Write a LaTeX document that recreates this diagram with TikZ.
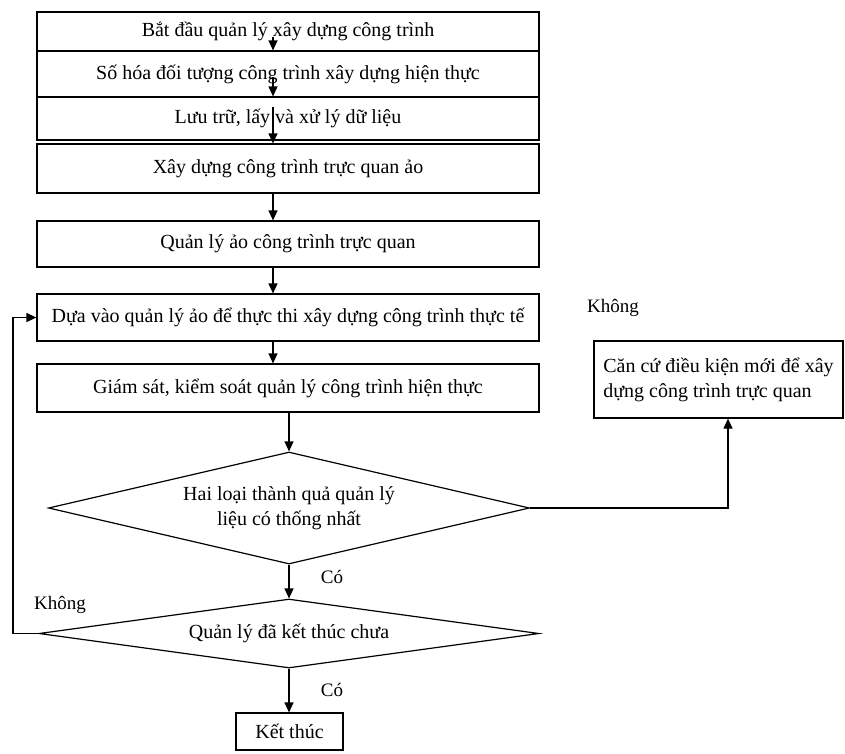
\documentclass[tikz,border=0pt]{standalone}
\usepackage{fontspec}
\setmainfont{Liberation Serif}
\usetikzlibrary{shapes.geometric,arrows.meta,calc}
\begin{document}
\begin{tikzpicture}[x=1pt,y=-1pt,line width=1.2pt,
  txt/.style={font=\fontsize{20}{25}\selectfont},
  box/.style={draw,rectangle,inner sep=0pt,minimum width=502pt,txt},
  dia/.style={draw,diamond,inner sep=0pt,txt,align=center},
  lbl/.style={inner sep=0pt,font=\fontsize{19}{23}\selectfont},
  arr/.style={-{Triangle[length=10pt,width=9pt]}}
]
\useasboundingbox (0,0) rectangle (845,753);
\coordinate (ax) at (273,0);
\coordinate (bx) at (289,0);
\node[box,minimum height=39pt] (b1) at (288,31.5) {Bắt đầu quản lý xây dựng công trình};
\node[box,minimum height=46pt] (b2) at (288,74) {Số hóa đối tượng công trình xây dựng hiện thực};
\node[box,minimum height=43pt] (b3) at (288,118.5) {Lưu trữ, lấy và xử lý dữ liệu};
\node[box,minimum height=49pt] (b4) at (288,168.5) {Xây dựng công trình trực quan ảo};
\node[box,minimum height=46pt] (b5) at (288,244) {Quản lý ảo công trình trực quan};
\node[box,minimum height=47pt] (b6) at (288,317.5) {Dựa vào quản lý ảo để thực thi xây dựng công trình thực tế};
\node[box,minimum height=48pt] (b7) at (288,388) {Giám sát, kiểm soát quản lý công trình hiện thực};
\node[dia,minimum width=481pt,minimum height=112pt,aspect=4.3] (d1) at (289,508) {Hai loại thành quả quản lý\\liệu có thống nhất};
\node[dia,minimum width=500pt,minimum height=69pt,aspect=7.2] (d2) at (289,633.5) {Quản lý đã kết thúc chưa};
\node[draw,rectangle,inner sep=0pt,minimum width=107pt,minimum height=37pt,txt] (end) at (289.5,731.5) {Kết thúc};
\node[draw,rectangle,inner sep=0pt,minimum width=249pt,minimum height=77pt,txt,align=left] (cc) at (718.5,379.5) {Căn cứ điều kiện mới để xây\\dựng công trình trực quan};
\node[lbl] (k1) at (613,308) {Không};
\node[lbl] (k2) at (60,605) {Không};
\node[lbl] (c1) at (332,577) {Có};
\node[lbl] (c2) at (332,690) {Có};
\coordinate (lx) at (13,0);
\coordinate (rx) at (728,0);
\draw[arr] ($(b1.center -| ax)+(0,5)$) -- (b2.north -| ax);
\draw[arr] ($(b2.center -| ax)+(0,3)$) -- (b3.north -| ax);
\draw[arr] ($(b3.center -| ax)+(0,-12)$) -- (b4.north -| ax);
\draw[arr] (b4.south -| ax) -- (b5.north -| ax);
\draw[arr] (b5.south -| ax) -- (b6.north -| ax);
\draw[arr] (b6.south -| ax) -- (b7.north -| ax);
\draw[arr] (b7.south -| bx) -- (d1.north -| bx);
\draw[arr] (d1.south -| bx) -- (d2.north -| bx);
\draw[arr] (d2.south -| bx) -- (end.north -| bx);
\draw[arr] (d1.east) -- (d1.east -| rx) -- (cc.south -| rx);
\draw[arr] (d2.west) -- (d2.west -| lx) -- (b6.west -| lx) -- (b6.west);
\end{tikzpicture}
\end{document}
